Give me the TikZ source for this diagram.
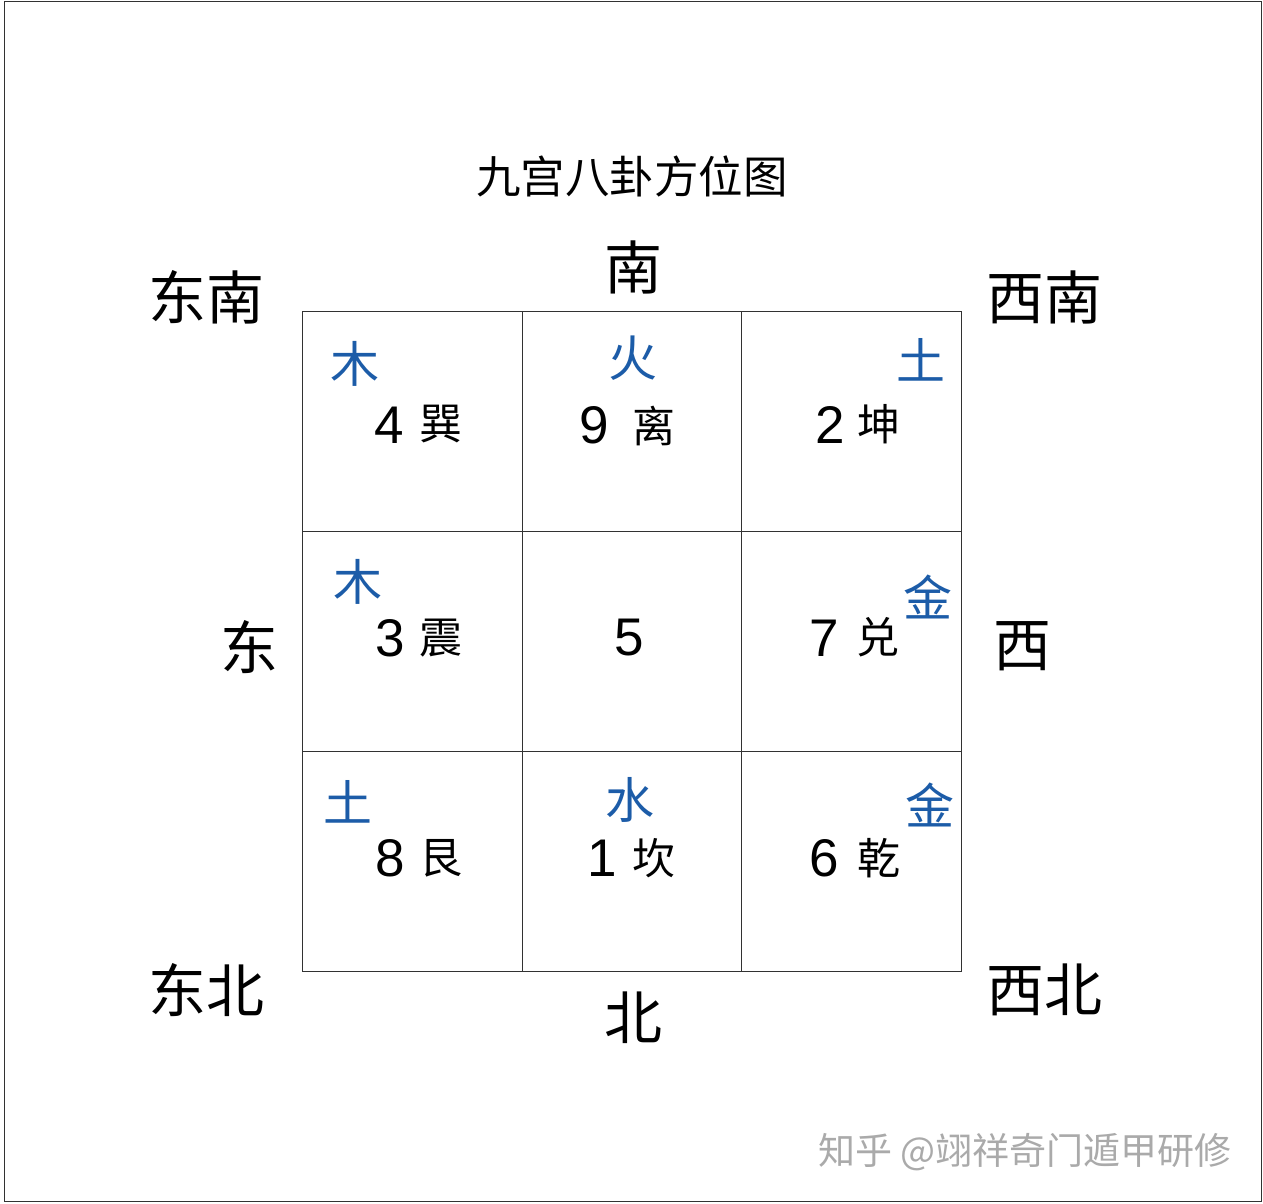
\documentclass[tikz,border=0pt]{standalone}
\usepackage{fontspec}
\setmainfont{Liberation Sans}
\newfontfamily\cjk{Noto Sans CJK SC}
\definecolor{elemblue}{RGB}{28,92,168}
\definecolor{gridgray}{RGB}{50,50,50}
\definecolor{wmgray}{RGB}{170,170,170}
\begin{document}
\begin{tikzpicture}[x=1pt,y=-1pt,
  cell/.style={draw=gridgray,line width=1.4pt,minimum width=219.5pt,minimum height=220pt,inner sep=0pt,anchor=north west},
  dir/.style={font=\cjk\fontsize{58}{58}\selectfont,inner sep=0pt,text=black},
  titlestyle/.style={font=\cjk\fontsize{44.5}{44.5}\selectfont,inner sep=0pt},
  elem/.style={font=\cjk\fontsize{49}{49}\selectfont,inner sep=0pt,text=elemblue},
  num/.style={font=\fontsize{53}{53}\selectfont,inner sep=0pt},
  gua/.style={font=\cjk\fontsize{43}{43}\selectfont,inner sep=0pt},
  wm/.style={font=\cjk\fontsize{37}{37}\selectfont,inner sep=0pt,text=wmgray}]
\useasboundingbox (0,0) rectangle (1263,1203);
\fill[white] (0,0) rectangle (1263,1203);
\node[draw=gridgray,line width=1.6pt,minimum width=1257pt,minimum height=1200pt,inner sep=0pt,anchor=north west] (frame) at (3.5,0.5) {};
% title
\node[titlestyle] (title) at (632,176) {九宫八卦方位图};
% directions
\node[dir] (s) at (633,267) {南};
\node[dir] (se) at (206,297) {东南};
\node[dir] (sw) at (1044,297) {西南};
\node[dir] (e) at (249,647) {东};
\node[dir] (w) at (1022,646) {西};
\node[dir] (ne) at (206,990) {东北};
\node[dir] (nw) at (1044,990) {西北};
\node[dir] (n) at (633,1018) {北};
% grid
\node[cell] (c11) at (302,311) {};
\node[cell] (c12) at (521.5,311) {};
\node[cell] (c13) at (741,311) {};
\node[cell] (c21) at (302,531) {};
\node[cell] (c22) at (521.5,531) {};
\node[cell] (c23) at (741,531) {};
\node[cell] (c31) at (302,751) {};
\node[cell] (c32) at (521.5,751) {};
\node[cell] (c33) at (741,751) {};
% row 1
\node[elem] (e11) at (355,364) {木};
\node[num] (n11) at (389,425) {4};
\node[gua] (g11) at (441,424) {巽};
\node[elem] (e12) at (633,358) {火};
\node[num] (n12) at (594,425) {9};
\node[gua] (g12) at (654,426) {离};
\node[elem] (e13) at (921,360) {土};
\node[num] (n13) at (830,425) {2};
\node[gua] (g13) at (879,424) {坤};
% row 2
\node[elem] (e21) at (358,582) {木};
\node[num] (n21) at (390,638) {3};
\node[gua] (g21) at (441,638) {震};
\node[num] (n22) at (629,638) {5};
\node[elem] (e23) at (928,597) {金};
\node[num] (n23) at (824,638) {7};
\node[gua] (g23) at (878,637) {兑};
% row 3
\node[elem] (e31) at (348,802) {土};
\node[num] (n31) at (390,858) {8};
\node[gua] (g31) at (441,858) {艮};
\node[elem] (e32) at (630,800) {水};
\node[num] (n32) at (602,858) {1};
\node[gua] (g32) at (654,858) {坎};
\node[elem] (e33) at (930,805) {金};
\node[num] (n33) at (824,858) {6};
\node[gua] (g33) at (879,858) {乾};
% watermark
\node[wm,anchor=west] (wmark) at (818,1152) {知乎 @翊祥奇门遁甲研修};
\end{tikzpicture}
\end{document}
